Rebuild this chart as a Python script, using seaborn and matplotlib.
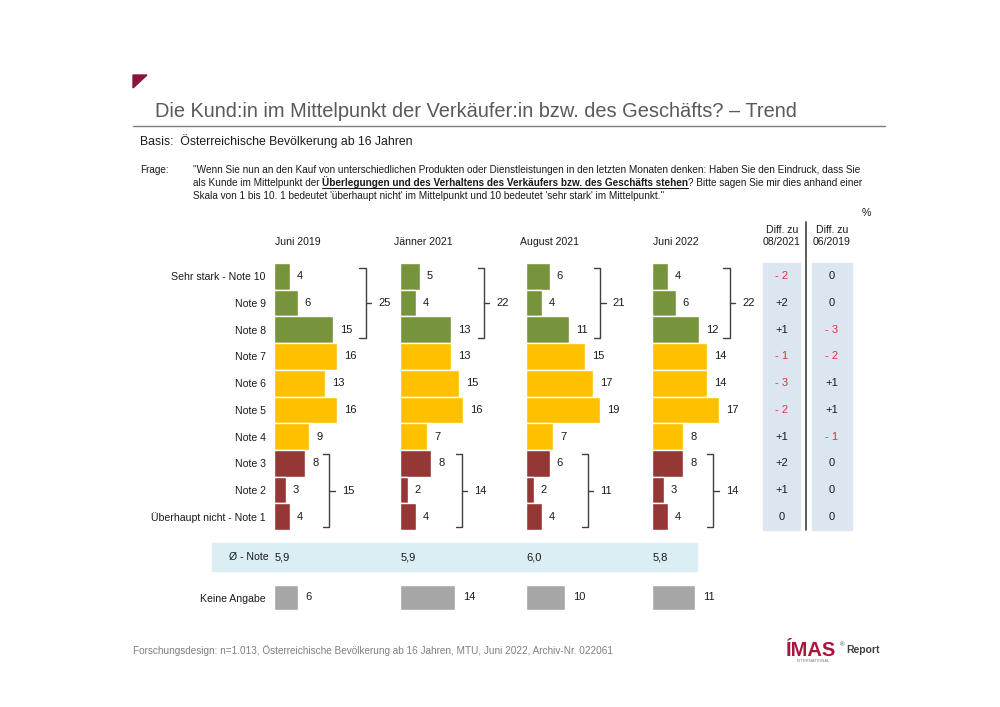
import matplotlib
matplotlib.use("Agg")
import matplotlib.pyplot as plt
import seaborn as sns
import pandas as pd
from matplotlib.patches import Rectangle, Polygon
from matplotlib.transforms import blended_transform_factory

# --- data ---
notes = ["Sehr stark - Note 10", "Note 9", "Note 8", "Note 7", "Note 6",
         "Note 5", "Note 4", "Note 3", "Note 2", "Überhaupt nicht - Note 1"]
note_group = ["hoch", "hoch", "hoch", "mittel", "mittel", "mittel", "mittel",
              "niedrig", "niedrig", "niedrig"]
waves = ["Juni 2019", "Jänner 2021", "August 2021", "Juni 2022"]
juni_2019 = [4, 6, 15, 16, 13, 16, 9, 8, 3, 4]
jaenner_2021 = [5, 4, 13, 13, 15, 16, 7, 8, 2, 4]
august_2021 = [6, 4, 11, 15, 17, 19, 7, 6, 2, 4]
juni_2022 = [4, 6, 12, 14, 14, 17, 8, 8, 3, 4]
top3 = [25, 22, 21, 22]
bottom3 = [15, 14, 11, 14]
avg_note = ["5,9", "5,9", "6,0", "5,8"]
keine_angabe = [6, 14, 10, 11]
diff_08_2021 = [-2, 2, 1, -1, -3, -2, 1, 2, 1, 0]
diff_06_2019 = [0, 0, -3, -2, 1, 1, -1, 0, 0, 0]
series = [juni_2019, jaenner_2021, august_2021, juni_2022]

# --- layout / style ---
W, H = 1000, 707
PX_PER_UNIT = 3.92
panel_left = [274, 400, 526, 652]
panel_w = 120
top_bracket_x = [23.4, 21.4, 18.9, 19.8]     # in data units of each panel
low_bracket_x = [14.1, 15.8, 15.8, 15.6]
palette = {"hoch": "#77933c", "mittel": "#ffc000", "niedrig": "#953735"}
grey_bar = "#a6a6a6"
txt_col = "#1a1a1a"
lab_size = 7.6

sns.set_theme(style="white")
plt.rcParams["font.family"] = ["Liberation Sans Narrow", "Liberation Sans", "DejaVu Sans"]

fig = plt.figure(figsize=(W / 100, H / 100), dpi=100)
fig.patch.set_facecolor("white")

# overlay in pixel coordinates for the page furniture
ov = fig.add_axes([0, 0, 1, 1], zorder=0)
ov.set_xlim(0, W)
ov.set_ylim(H, 0)
ov.axis("off")


def fig_rect(px_top, px_bottom):
    return 1 - px_bottom / H, (px_bottom - px_top) / H


# header
ov.add_patch(Polygon([(133, 75), (147, 75), (133, 88)], closed=True, color="#8b1538"))
ov.text(155, 117, "Die Kund:in im Mittelpunkt der Verkäufer:in bzw. des Geschäfts? – Trend",
        fontsize=14.4, color="#595959", va="baseline")
ov.plot([133, 885], [126, 126], color="#7f7f7f", lw=1)
ov.text(140, 145, "Basis:  Österreichische Bevölkerung ab 16 Jahren", fontsize=8.8,
        color=txt_col, va="baseline")

q_size = 7.2
ov.text(140, 173, "Frage:", fontsize=q_size, color=txt_col, va="baseline")
renderer = fig.canvas.get_renderer()


def draw_runs(x, y, runs):
    for txt, bold in runs:
        t = ov.text(x, y, txt, fontsize=q_size, color=txt_col, va="baseline",
                    fontweight="bold" if bold else "normal")
        bb = t.get_window_extent(renderer)
        if bold:
            ov.plot([x, x + bb.width], [y + 2, y + 2], color=txt_col, lw=0.8)
        x += bb.width


draw_runs(193, 173, [("\"Wenn Sie nun an den Kauf von unterschiedlichen Produkten oder "
                      "Dienstleistungen in den letzten Monaten denken: Haben Sie den Eindruck, dass Sie", False)])
draw_runs(193, 186, [("als Kunde im Mittelpunkt der ", False),
                     ("Überlegungen und des Verhaltens des Verkäufers bzw. des Geschäfts stehen", True),
                     ("? Bitte sagen Sie mir dies anhand einer", False)])
draw_runs(193, 199, [("Skala von 1 bis 10. 1 bedeutet 'überhaupt nicht' im Mittelpunkt und 10 "
                      "bedeutet 'sehr stark' im Mittelpunkt.\"", False)])

# main panels
df_base = pd.DataFrame({"note": notes, "gruppe": note_group})
axes = []
for i, (wave, vals) in enumerate(zip(waves, series)):
    b, h = fig_rect(263, 530)
    ax = fig.add_axes([panel_left[i] / W, b, panel_w / W, h], zorder=2)
    ax.patch.set_alpha(0)
    df = df_base.assign(wert=vals)
    sns.barplot(data=df, x="wert", y="note", hue="gruppe", palette=palette,
                order=notes, width=1, dodge=False, legend=False, saturation=1,
                edgecolor="white", linewidth=1, orient="h", ax=ax)
    ax.set_xlim(0, panel_w / PX_PER_UNIT)
    ax.set_ylim(9.5, -0.5)
    ax.set_xlabel("")
    ax.set_ylabel("")
    ax.set_xticks([])
    sns.despine(ax=ax, left=True, bottom=True)
    if i == 0:
        ax.tick_params(axis="y", length=0, pad=6, labelsize=lab_size, labelcolor=txt_col)
    else:
        ax.set_yticks([])
    for r, v in enumerate(vals):
        ax.text(v + 1.8, r, str(v), va="center", ha="left", fontsize=8, color=txt_col)
    ax.text(6, -1.3, wave, ha="center", va="center", fontsize=lab_size, color=txt_col)

    # brackets
    for x0, y0, y1, lab in [(top_bracket_x[i], -0.3, 2.3, top3[i]),
                            (low_bracket_x[i], 6.65, 9.4, bottom3[i])]:
        ym = (y0 + y1) / 2
        ax.plot([x0 - 1.6, x0, x0, x0 - 1.6], [y0, y0, y1, y1], color="#404040",
                lw=1, clip_on=False)
        ax.plot([x0, x0 + 1.4], [ym, ym], color="#404040", lw=1, clip_on=False)
        ax.text(x0 + 3.2, ym, str(lab), va="center", ha="left", fontsize=8, color=txt_col)
    axes.append(ax)

    # keine Angabe
    b2, h2 = fig_rect(584, 611)
    axk = fig.add_axes([panel_left[i] / W, b2, panel_w / W, h2], zorder=2)
    axk.patch.set_alpha(0)
    sns.barplot(x=[keine_angabe[i]], y=["Keine Angabe"], color=grey_bar, width=0.93,
                saturation=1, orient="h", ax=axk)
    axk.set_xlim(0, panel_w / PX_PER_UNIT)
    axk.set_ylim(0.5, -0.5)
    axk.set_xticks([])
    sns.despine(ax=axk, left=True, bottom=True)
    if i == 0:
        axk.tick_params(axis="y", length=0, pad=6, labelsize=lab_size, labelcolor=txt_col)
    else:
        axk.set_yticks([])
    axk.text(keine_angabe[i] + 2.0, 0, str(keine_angabe[i]), va="center", ha="left",
             fontsize=8, color=txt_col)

# Ø - Note band
ov.add_patch(Rectangle((212, 543), 485, 28, color="#daeef3", zorder=0))
ov.text(269, 557, "Ø - Note", ha="right", va="center", fontsize=lab_size, color=txt_col)
for i, ax in enumerate(axes):
    tr = blended_transform_factory(ax.transData, ov.transData)
    ov.text(0.2, 557, avg_note[i], transform=tr, ha="left", va="center", fontsize=8,
            color=txt_col)

# difference columns
ov.add_patch(Rectangle((763, 263), 37, 267, color="#dce6f1", zorder=0))
ov.add_patch(Rectangle((812, 263), 40, 267, color="#dce6f1", zorder=0))
ov.plot([806, 806], [222, 530], color="#404040", lw=1.2)
ov.text(782, 236, "Diff. zu\n08/2021", ha="center", va="center", fontsize=lab_size,
        color=txt_col, linespacing=1.35)
ov.text(832, 236, "Diff. zu\n06/2019", ha="center", va="center", fontsize=lab_size,
        color=txt_col, linespacing=1.35)
ov.text(866, 213, "%", ha="center", va="center", fontsize=lab_size, color=txt_col)
tr_rows = blended_transform_factory(ov.transData, axes[0].transData)


def fmt_diff(d):
    if d > 0:
        return "+%d" % d, txt_col
    if d < 0:
        return "- %d" % -d, "#e0303a"
    return "0", txt_col


for r in range(len(notes)):
    for xc, d in [(782, diff_08_2021[r]), (832, diff_06_2019[r])]:
        s, c = fmt_diff(d)
        ov.text(xc, r, s, transform=tr_rows, ha="center", va="center", fontsize=8, color=c)

# footer
ov.text(133, 654, "Forschungsdesign: n=1.013, Österreichische Bevölkerung ab 16 Jahren, MTU, "
        "Juni 2022, Archiv-Nr. 022061", fontsize=7.2, color="#7f7f7f", va="baseline")
ov.text(786, 656, "ÍMAS", fontsize=14.5, fontweight="bold", color="#a8163c", va="baseline")
ov.text(840, 646, "®", fontsize=4.5, color="#404040", va="baseline")
ov.text(846, 653, "Report", fontsize=7.5, fontweight="bold", color="#404040", va="baseline")
ov.text(797, 662, "INTERNATIONAL", fontsize=3, color="#7f7f7f", va="baseline")

fig.savefig("out.png", dpi=100)
